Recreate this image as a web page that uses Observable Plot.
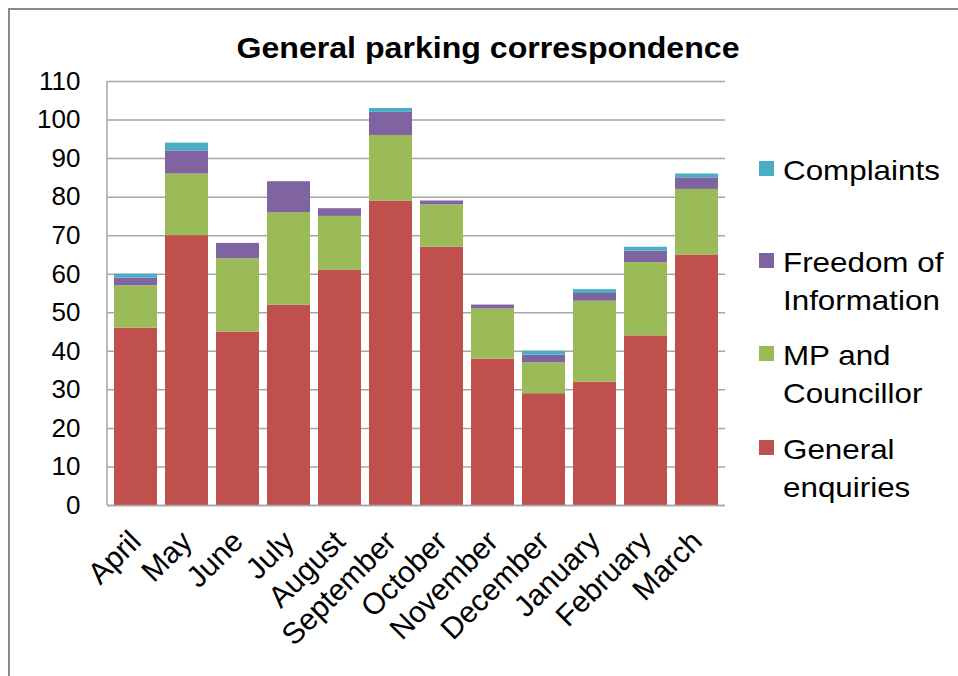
<!DOCTYPE html>
<html><head><meta charset="utf-8">
<script src="https://cdn.jsdelivr.net/npm/d3@7"></script>
<script src="https://cdn.jsdelivr.net/npm/@observablehq/plot@0.6"></script>
<style>
html,body{margin:0;padding:0;background:#fff;overflow:hidden;width:958px;height:676px}
#wrap{position:relative;width:958px;height:676px;overflow:hidden;font-family:"Liberation Sans",Arial,sans-serif;color:#000}
#frame{position:absolute;left:8px;top:8px;width:1000px;height:800px;border-left:2px solid #8a8a8a;border-top:2px solid #8a8a8a}
#chart{position:absolute;left:0;top:0}
#title{position:absolute;left:488px;top:31px;font-size:30px;line-height:34px;font-weight:bold;white-space:nowrap;transform:translateX(-50%) scaleX(1.07)}
.leg{position:absolute;left:759px;font-size:28px;line-height:38px;white-space:nowrap}
.leg .sw{position:absolute;left:0;top:9px;width:15px;height:15px}
.leg .tx{position:absolute;left:24px;top:0;transform:scaleX(1.12);transform-origin:0 0}
</style></head>
<body>
<div id="wrap">
  <div id="frame"></div>
  <div id="chart"></div>
  <div id="title">General parking correspondence</div>
</div>
<script>
const months = ["April","May","June","July","August","September","October","November","December","January","February","March"];
const series = ["General enquiries","MP and Councillor","Freedom of Information","Complaints"];
const colors = ["#C0504D","#9BBB59","#8064A2","#4BACC6"];
const generalEnquiries = [46,70,45,52,61,79,67,38,29,32,44,65];
const mpCouncillor     = [11,16,19,24,14,17,11,13, 8,21,19,17];
const freedomOfInfo    = [ 2, 6, 4, 8, 2, 6, 1, 1, 2, 2, 3, 3];
const complaints       = [ 1, 2, 0, 0, 0, 1, 0, 0, 1, 1, 1, 1];
const yTicks = [0,10,20,30,40,50,60,70,80,90,100,110];
const legendOrder = ["Complaints","Freedom of Information","MP and Councillor","General enquiries"];
const legendLines = [["Complaints"],["Freedom of","Information"],["MP and","Councillor"],["General","enquiries"]];
const legendTops = [152,244,337,431];

const seriesValues = [generalEnquiries, mpCouncillor, freedomOfInfo, complaints];
const rows = [];
series.forEach((s, si) => months.forEach((m, mi) => rows.push({month: m, series: s, value: seriesValues[si][mi]})));

const chart = Plot.plot({
  width: 958, height: 676,
  marginLeft: 107, marginRight: 233, marginTop: 81, marginBottom: 171,
  style: {fontFamily: "'Liberation Sans', Arial, sans-serif", fontSize: "26px", color: "#000", background: "transparent", overflow: "visible"},
  x: {domain: months, paddingInner: 0.165, paddingOuter: 0.0825, label: null},
  y: {domain: [0, 110], label: null},
  color: {domain: series, range: colors},
  marks: [
    Plot.gridY(yTicks, {stroke: "#a6a6a6", strokeOpacity: 1, strokeWidth: 1.5}),
    Plot.barY(rows, {x: "month", y: "value", fill: "series", order: series}),
    Plot.ruleY([0], {stroke: "#a6a6a6", strokeWidth: 1.5}),
    Plot.axisY({ticks: yTicks, tickSize: 0, tickPadding: 27, fontSize: 26, label: null}),
    Plot.axisX({tickSize: 0, tickPadding: 31, tickRotate: -45, fontSize: 30, label: null})
  ]
});
const xr = chart.scale("x").range, yr = chart.scale("y").range;
d3.select(chart).append("line")
  .attr("x1", xr[0]).attr("x2", xr[0]).attr("y1", yr[0]).attr("y2", yr[1])
  .attr("stroke", "#a6a6a6").attr("stroke-width", 1.5);
document.getElementById("chart").appendChild(chart);

const wrap = document.getElementById("wrap");
legendOrder.forEach((name, i) => {
  const div = document.createElement("div");
  div.className = "leg";
  div.style.top = legendTops[i] + "px";
  const sw = document.createElement("div");
  sw.className = "sw";
  sw.style.background = colors[series.indexOf(name)];
  const tx = document.createElement("div");
  tx.className = "tx";
  tx.innerHTML = legendLines[i].join("<br>");
  div.appendChild(sw); div.appendChild(tx);
  wrap.appendChild(div);
});
</script>
</body></html>
